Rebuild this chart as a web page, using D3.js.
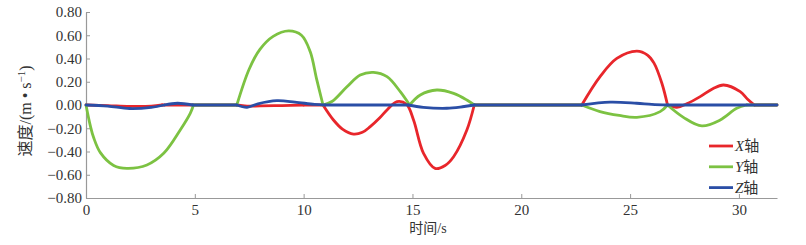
<!DOCTYPE html>
<html>
<head>
<meta charset="utf-8">
<script src="https://cdn.jsdelivr.net/npm/d3@7"></script>
<style>
  body { margin: 0; background: #fff; }
  svg text { font-family: "Liberation Serif", "DejaVu Serif", serif; fill: #333; }
  svg text.cjk, svg tspan.cjk { font-family: "Noto Sans CJK SC", sans-serif; }
</style>
</head>
<body>
<svg id="chart"></svg>
<script>
// time (s) and velocity (m/s)
const tX = [0, 1.0, 2.0, 3.0, 3.5, 6.93, 7.4, 8.0, 9.0, 10.0, 10.89, 11.37, 11.8, 12.29, 12.7, 13.06, 13.5, 13.83, 14.29, 14.73, 15.05, 15.51, 16.04, 16.5, 16.89, 17.5, 17.84, 22.78, 23.62, 24.39, 25.31, 25.8, 26.1, 26.46, 26.72, 27.15, 27.6, 28.22, 28.8, 29.29, 30.06, 30.4, 30.71, 31.75];
const vX = [0, -0.005, -0.012, -0.01, 0, 0, -0.01, -0.008, -0.005, 0, 0, -0.129, -0.21, -0.25, -0.235, -0.186, -0.11, -0.043, 0.029, 0.005, -0.129, -0.416, -0.545, -0.52, -0.445, -0.215, 0, 0, 0.244, 0.401, 0.464, 0.43, 0.36, 0.187, 0, -0.02, 0.01, 0.072, 0.14, 0.172, 0.115, 0.05, 0, 0];

const tY = [0, 0.2, 0.35, 0.66, 1.27, 1.88, 2.8, 3.57, 4.33, 4.79, 4.94, 6.93, 7.5, 8.0, 8.6, 9.31, 9.9, 10.3, 10.6, 10.89, 11.3, 11.99, 12.6, 13.21, 13.83, 14.44, 14.87, 15.36, 16.12, 16.89, 17.5, 17.84, 22.78, 23.62, 24.5, 25.31, 26.38, 26.72, 27.45, 28.3, 29.14, 29.9, 30.36, 31.75];
const vY = [0, -0.18, -0.28, -0.41, -0.52, -0.545, -0.516, -0.416, -0.215, -0.072, 0, 0, 0.31, 0.48, 0.59, 0.637, 0.6, 0.46, 0.22, 0, 0.03, 0.157, 0.258, 0.281, 0.244, 0.115, 0, 0.086, 0.129, 0.1, 0.043, 0, 0, -0.057, -0.09, -0.106, -0.057, 0, -0.106, -0.18, -0.129, -0.029, 0, 0];

const tZ = [0, 1.0, 2.0, 3.0, 3.6, 4.2, 4.9, 6.93, 7.4, 7.9, 8.77, 9.6, 10.5, 11.0, 14.8, 15.5, 16.58, 17.3, 17.84, 22.78, 24.08, 25.3, 26.0, 26.72, 31.75];
const vZ = [0, -0.01, -0.03, -0.02, 0, 0.015, 0, 0, -0.02, 0.01, 0.037, 0.025, 0.005, 0, 0, -0.02, -0.028, -0.015, 0, 0, 0.025, 0.015, 0.005, 0, 0];

const xTicks = [0, 5, 10, 15, 20, 25, 30];
const yTicks = [-0.8, -0.6, -0.4, -0.2, 0, 0.2, 0.4, 0.6, 0.8];

const series = [
  { name: "X", color: "#e8262b", t: tX, v: vX },
  { name: "Y", color: "#7cc242", t: tY, v: vY },
  { name: "Z", color: "#2a4ea6", t: tZ, v: vZ }
];

const width = 806, height = 245;
const margin = { top: 12, right: 29, bottom: 47, left: 86 };
const serif = '"Liberation Serif", "DejaVu Serif", serif';

const svg = d3.select("#chart").attr("width", width).attr("height", height);

const x = d3.scaleLinear().domain([0, 31.75]).range([margin.left, width - margin.right]);
const y = d3.scaleLinear().domain([-0.8, 0.8]).range([height - margin.bottom, margin.top]);

const fmt = d => (d < 0 ? "\u2212" : "") + Math.abs(d).toFixed(2);

// axes
const xAxis = svg.append("g")
  .attr("transform", `translate(0,${height - margin.bottom})`)
  .call(d3.axisBottom(x).tickValues(xTicks).tickSizeInner(-4).tickSizeOuter(0).tickPadding(6));
const yAxis = svg.append("g")
  .attr("transform", `translate(${margin.left},0)`)
  .call(d3.axisLeft(y).tickValues(yTicks).tickFormat(fmt).tickSizeInner(-4).tickSizeOuter(0).tickPadding(4));

[xAxis, yAxis].forEach(a => {
  a.attr("font-family", null).attr("font-size", null);
  a.select(".domain").attr("stroke", "#999").attr("stroke-width", 1.2);
  a.selectAll(".tick line").attr("stroke", "#999");
  a.selectAll(".tick text").attr("fill", "#333")
    .attr("style", `font-family: ${serif}; font-size: 15px;`);
});
xAxis.selectAll(".tick").filter(d => d === 0).select("line").remove();

// lines: split at zero points so the lobes meet the baseline with a corner
const line = d3.line()
  .x(d => x(d[0]))
  .y(d => y(d[1]))
  .curve(d3.curveCatmullRom.alpha(0.5));

function pieces(s) {
  const out = [];
  let cur = [];
  s.t.forEach((t, i) => {
    cur.push([t, s.v[i]]);
    if (s.v[i] === 0 && cur.length > 1) {
      out.push(cur);
      cur = [[t, 0]];
    }
  });
  if (cur.length > 1) out.push(cur);
  return out;
}

const lines = svg.append("g").selectAll("g")
  .data(series)
  .enter().append("g")
  .attr("fill", "none")
  .attr("stroke", s => s.color)
  .attr("stroke-width", 2.8)
  .attr("stroke-linejoin", "round")
  .attr("stroke-linecap", "round");

lines.selectAll("path")
  .data(s => pieces(s))
  .enter().append("path")
  .attr("d", line);

// axis titles
svg.append("text")
  .attr("x", 428).attr("y", 233)
  .attr("text-anchor", "middle")
  .style("font-size", "14px")
  .html('<tspan class="cjk">时间</tspan>/s');

svg.append("text")
  .attr("transform", "translate(31,111) rotate(-90)")
  .attr("text-anchor", "middle")
  .style("font-size", "16px")
  .html('<tspan class="cjk">速度</tspan>/(m \u2022 s<tspan dy="-6" font-size="11">\u22121</tspan><tspan dy="6">)</tspan>');

// legend
const legend = svg.append("g").selectAll("g")
  .data(series)
  .enter().append("g")
  .attr("transform", (d, i) => `translate(709,${146 + i * 20.8})`);

legend.append("line")
  .attr("x1", 0).attr("x2", 24)
  .attr("stroke", d => d.color)
  .attr("stroke-width", 2.8);

legend.append("text")
  .attr("x", 26)
  .attr("dy", "0.35em")
  .style("font-size", "15px")
  .html(d => `<tspan font-style="italic">${d.name}</tspan><tspan class="cjk">轴</tspan>`);
</script>
</body>
</html>
